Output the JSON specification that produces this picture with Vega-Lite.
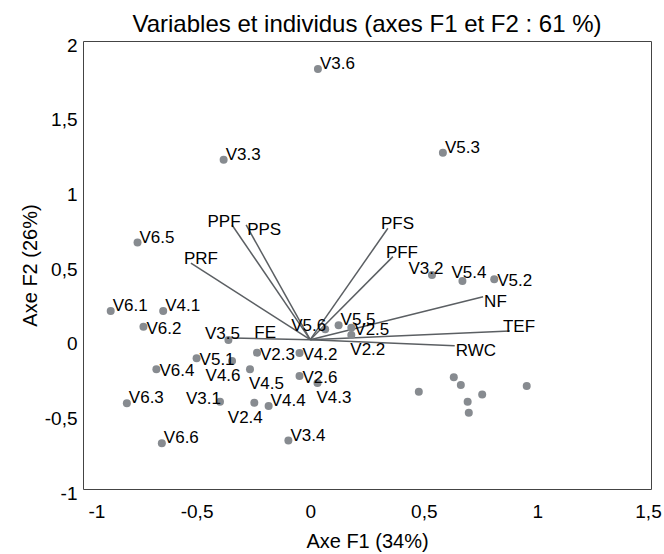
{
  "$schema": "https://vega.github.io/schema/vega-lite/v6.json",
  "autosize": {"type": "none"},
  "padding": {"left": 83, "top": 41, "right": 13, "bottom": 65},
  "width": 568,
  "height": 448,
  "title": {
    "text": "Variables et individus (axes F1 et F2 : 61 %)",
    "anchor": "middle",
    "frame": "group",
    "font": "Liberation Sans",
    "fontSize": 24,
    "fontWeight": "normal",
    "color": "#000",
    "offset": -1
  },
  "config": {
    "view": {"stroke": "#444", "strokeWidth": 1},
    "font": "Liberation Sans",
    "axis": {
      "grid": false,
      "domain": false,
      "ticks": false,
      "labelFont": "Liberation Sans",
      "labelFontSize": 19,
      "labelColor": "#000",
      "titleFont": "Liberation Sans",
      "titleFontSize": 20,
      "titleFontWeight": "normal",
      "titleColor": "#000",
      "labelExpr": "datum.value < 0 ? '-' + replace(format(-datum.value, '~g'), '.', ',') : replace(format(datum.value, '~g'), '.', ',')"
    },
    "text": {"font": "Liberation Sans", "fontSize": 17, "color": "#000", "baseline": "middle"}
  },
  "datasets": {
    "individus": [
      {"name": "V3.6", "F1": 0.034, "F2": 1.813},
      {"name": "V3.3", "F1": -0.381, "F2": 1.204},
      {"name": "V5.3", "F1": 0.584, "F2": 1.251},
      {"name": "V6.5", "F1": -0.760, "F2": 0.650},
      {"name": "V6.1", "F1": -0.878, "F2": 0.192},
      {"name": "V4.1", "F1": -0.647, "F2": 0.192},
      {"name": "V6.2", "F1": -0.734, "F2": 0.087},
      {"name": "V3.5", "F1": -0.360, "F2": -0.002},
      {"name": "V5.6", "F1": 0.066, "F2": 0.070},
      {"name": "V5.5", "F1": 0.125, "F2": 0.096},
      {"name": "V2.5", "F1": 0.181, "F2": 0.080},
      {"name": "V2.2", "F1": 0.181, "F2": 0.031},
      {"name": "V4.2", "F1": -0.047, "F2": -0.089},
      {"name": "V2.3", "F1": -0.234, "F2": -0.087},
      {"name": "V2.6", "F1": -0.047, "F2": -0.243},
      {"name": "V4.3", "F1": 0.032, "F2": -0.290},
      {"name": "V5.1", "F1": -0.500, "F2": -0.125},
      {"name": "V4.6", "F1": -0.344, "F2": -0.143},
      {"name": "V4.5", "F1": -0.265, "F2": -0.198},
      {"name": "V6.4", "F1": -0.677, "F2": -0.198},
      {"name": "V6.3", "F1": -0.807, "F2": -0.426},
      {"name": "V3.1", "F1": -0.397, "F2": -0.415},
      {"name": "V2.4", "F1": -0.246, "F2": -0.422},
      {"name": "V4.4", "F1": -0.183, "F2": -0.444},
      {"name": "V6.6", "F1": -0.653, "F2": -0.694},
      {"name": "V3.4", "F1": -0.096, "F2": -0.676},
      {"name": "V3.2", "F1": 0.536, "F2": 0.433},
      {"name": "V5.4", "F1": 0.670, "F2": 0.393},
      {"name": "V5.2", "F1": 0.810, "F2": 0.405},
      {"name": null, "F1": 0.478, "F2": -0.348},
      {"name": null, "F1": 0.632, "F2": -0.252},
      {"name": null, "F1": 0.663, "F2": -0.303},
      {"name": null, "F1": 0.757, "F2": -0.368},
      {"name": null, "F1": 0.693, "F2": -0.415},
      {"name": null, "F1": 0.698, "F2": -0.489},
      {"name": null, "F1": 0.953, "F2": -0.310}
    ],
    "variables": [
      {"name": "PPF", "F1": -0.344, "F2": 0.768},
      {"name": "PPS", "F1": -0.282, "F2": 0.768},
      {"name": "PRF", "F1": -0.525, "F2": 0.512},
      {"name": "FE", "F1": -0.343, "F2": 0.011},
      {"name": "PFS", "F1": 0.342, "F2": 0.746},
      {"name": "PFF", "F1": 0.364, "F2": 0.556},
      {"name": "NF", "F1": 0.761, "F2": 0.288},
      {"name": "TEF", "F1": 0.879, "F2": 0.058},
      {"name": "RWC", "F1": 0.636, "F2": -0.040}
    ],
    "graduationsF1": [{"v": -1}, {"v": -0.5}, {"v": 0.5}, {"v": 1}, {"v": 1.5}],
    "graduationsF2": [{"v": -1}, {"v": -0.5}, {"v": 0.5}, {"v": 1}, {"v": 1.5}, {"v": 2}]
  },
  "encoding": {
    "x": {
      "field": "F1",
      "type": "quantitative",
      "scale": {"domain": [-1, 1.5], "nice": false, "zero": false},
      "axis": {
        "values": [-1, -0.5, 0, 0.5, 1, 1.5],
        "title": "Axe F1 (34%)",
        "labelPadding": 13,
        "titlePadding": 10,
        "labelFlush": false,
        "labelAlign": {"condition": {"test": "datum.value == -1", "value": "left"}, "value": "center"},
        "labelOffset": {"condition": [{"test": "datum.value == -1", "value": 5}, {"test": "datum.value == 1.5", "value": -3}], "value": 0}
      }
    },
    "y": {
      "field": "F2",
      "type": "quantitative",
      "scale": {"domain": [-1, 2], "nice": false, "zero": false},
      "axis": {"values": [-1, -0.5, 0, 0.5, 1, 1.5, 2], "title": "Axe F2 (26%)", "labelPadding": 6, "titlePadding": 4, "labelOffset": 4}
    }
  },
  "layer": [
    {
      "mark": {"type": "rule", "color": "#222", "strokeWidth": 1.2},
      "encoding": {"x": null, "y": {"datum": 0, "type": "quantitative"}}
    },
    {
      "mark": {"type": "rule", "color": "#222", "strokeWidth": 1.2},
      "encoding": {"y": null, "x": {"datum": 0, "type": "quantitative"}}
    },
    {
      "data": {"name": "graduationsF1"},
      "mark": {"type": "tick", "orient": "vertical", "size": 13, "thickness": 1.2, "color": "#222"},
      "encoding": {"x": {"field": "v", "type": "quantitative"}, "y": {"datum": 0, "type": "quantitative"}}
    },
    {
      "data": {"name": "graduationsF2"},
      "mark": {"type": "tick", "orient": "horizontal", "size": 13, "thickness": 1.2, "color": "#222"},
      "encoding": {"y": {"field": "v", "type": "quantitative"}, "x": {"datum": 0, "type": "quantitative"}}
    },
    {
      "data": {"name": "variables"},
      "mark": {"type": "rule", "color": "#5b5f63", "strokeWidth": 1.5},
      "encoding": {"x2": {"datum": 0}, "y2": {"datum": 0}}
    },
    {
      "data": {"name": "individus"},
      "mark": {"type": "point", "filled": true, "size": 64, "color": "#878b90", "opacity": 1}
    },
    {
      "data": {"name": "individus"},
      "transform": [{"filter": {"field": "name", "oneOf": ["V3.6", "V3.3", "V5.3", "V6.5", "V6.1", "V4.1", "V6.3", "V6.6", "V3.4", "V4.4", "V5.5"]}}],
      "mark": {"type": "text", "align": "left", "dx": 2, "dy": -5},
      "encoding": {"text": {"field": "name"}}
    },
    {
      "data": {"name": "individus"},
      "transform": [{"filter": {"field": "name", "oneOf": ["V6.2", "V2.5", "V4.2", "V2.3", "V5.2", "V2.6", "V5.1", "V6.4"]}}],
      "mark": {"type": "text", "align": "left", "dx": 3, "dy": 2},
      "encoding": {"text": {"field": "name"}}
    },
    {
      "data": {"name": "individus"},
      "transform": [{"filter": {"field": "name", "oneOf": ["V3.5", "V3.2"]}}],
      "mark": {"type": "text", "align": "center", "dx": -6, "dy": -6},
      "encoding": {"text": {"field": "name"}}
    },
    {
      "data": {"name": "individus"},
      "transform": [{"filter": {"field": "name", "equal": "V5.4"}}],
      "mark": {"type": "text", "align": "left", "dx": -11, "dy": -8},
      "encoding": {"text": {"field": "name"}}
    },
    {
      "data": {"name": "individus"},
      "transform": [{"filter": {"field": "name", "oneOf": ["V5.6", "V3.1"]}}],
      "mark": {"type": "text", "align": "right", "dx": 1, "dy": -3},
      "encoding": {"text": {"field": "name"}}
    },
    {
      "data": {"name": "individus"},
      "transform": [{"filter": {"field": "name", "oneOf": ["V4.6", "V2.4"]}}],
      "mark": {"type": "text", "align": "center", "dx": -9, "dy": 15},
      "encoding": {"text": {"field": "name"}}
    },
    {
      "data": {"name": "individus"},
      "transform": [{"filter": {"field": "name", "oneOf": ["V4.5", "V4.3", "V2.2"]}}],
      "mark": {"type": "text", "align": "left", "dx": -1, "dy": 15},
      "encoding": {"text": {"field": "name"}}
    },
    {
      "data": {"name": "variables"},
      "transform": [{"filter": {"field": "name", "oneOf": ["PRF", "PFS", "PFF", "TEF"]}}],
      "mark": {"type": "text", "align": "left", "dx": -7, "dy": -4},
      "encoding": {"text": {"field": "name"}}
    },
    {
      "data": {"name": "variables"},
      "transform": [{"filter": {"field": "name", "oneOf": ["PPS", "NF", "RWC"]}}],
      "mark": {"type": "text", "align": "left", "dx": 1, "dy": 5},
      "encoding": {"text": {"field": "name"}}
    },
    {
      "data": {"name": "variables"},
      "transform": [{"filter": {"field": "name", "equal": "PPF"}}],
      "mark": {"type": "text", "align": "center", "dx": -8, "dy": -3},
      "encoding": {"text": {"field": "name"}}
    },
    {
      "data": {"name": "variables"},
      "transform": [{"filter": {"field": "name", "equal": "FE"}}],
      "mark": {"type": "text", "align": "left", "dx": 22, "dy": -5},
      "encoding": {"text": {"field": "name"}}
    }
  ]
}
